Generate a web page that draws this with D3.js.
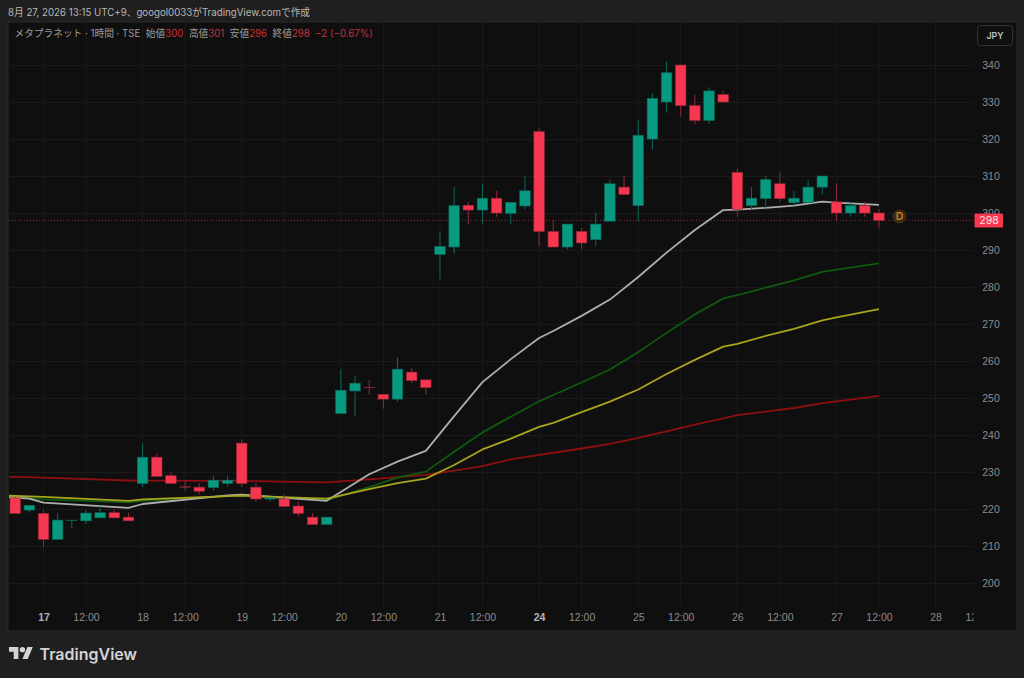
<!DOCTYPE html>
<html>
<head>
<meta charset="utf-8">
<script src="https://cdn.jsdelivr.net/npm/d3@7"></script>
<style>
  html, body { margin: 0; padding: 0; background: #1f1f1f; }
  svg { display: block; font-family: Inter, "Noto Sans CJK JP", sans-serif; }
  .axis path { display: none; }
  .axis line { stroke: #1a1a1a; }
  .axis text { fill: #8c8c8c; font-size: 10.5px; }
  .x-axis .major text { fill: #b4b4b4; font-weight: 700; }
</style>
</head>
<body>
<div id="chart"></div>
<script>
'use strict';
(function() {
  // Candles: first one sits two bars before the "17" tick
  var firstBar = -2;
  var opens = [223,219.7,218.8,211.8,216.9,216.8,217.6,219,217.8,226.9,234,229,226,225.9,225.8,226.9,237.8,225.9,222.7,222.7,220.8,217.8,215.8,245.8,251.9,252.9,251,249.7,257,254.9,288.8,290.8,302.1,300.8,304,299.9,301.9,322,295,290.8,295,292.8,297.8,307,302,320,330,340,329,325,332,311,302,303.9,307.9,302.8,302.8,307,303,300,302,300];
  var highs = [223.3,221,219.7,218.8,217,219.7,220.8,219.7,219,237.8,234.9,229.8,227.8,227,229,229,238.8,227,223,223.8,222,218.9,217.8,257.8,256,254.9,251,261,258,254.9,295,307.1,303,307.9,306,302.9,310,323,298,297,296,300.1,309,310,325.1,332.2,341,340,332,334,333,312,307,310,311,306,309,310,308,303,303,301];
  var lows = [219,219,209.8,211.8,214.8,216,217.6,217.6,216.8,226,228.8,226.9,224.8,224,224.9,226,226,222,222,220.7,218,215.8,215.8,245.8,245,251,247.1,249,254,251,282.1,289,297.1,297.1,299,297.1,301,291,290.8,290.2,290.2,291,297.8,305,297.9,317.1,327.1,326,324,324,330,299,301,301,303,302,302.8,305.1,298,299,299,296];
  var closes = [218.8,221,211.8,217,217,218.9,219,217.6,216.8,234,228.8,226.9,226,224.8,227.8,227.8,226.9,222.7,223,220.7,218.8,215.8,217.8,252.1,254,252.9,249.7,257.8,254.7,252.8,291,302,300.8,304,300,302.9,306,295,290.8,297,291.9,297,307.9,305,321,331,337.9,329,325,333,330,301,304,309,303.9,304,307,310,300,302,300,298];

  // Moving averages, read at these bar positions
  var lineBars = [-3,-1,0,6,7,13,14,20,23,25,27,29,31,33,35,36,38,40,42,44,46,48,49,51,53,55,56,59];
  var whiteLine = [223.25,222.8,221.7,220.3,221.35,223.7,223.9,222.2,229.4,232.8,235.7,245.1,254.3,260.5,266.2,268.1,272.2,276.6,282.7,289.3,295.4,300.8,300.9,301.4,302,303.1,302.8,302.2];
  var greenLine = [223.5,223.1,222.6,221.8,222.2,223.5,223.6,222.4,225.9,228.5,230.1,235.5,240.7,244.95,249.1,250.8,254.2,257.7,262.4,267.6,272.6,276.9,277.8,279.8,281.8,284.1,284.7,286.4];
  var yellowLine = [223.65,223.4,223.25,222.2,222.6,223.5,223.6,222.8,225.4,227,228.2,231.9,236.1,239,242.2,243.3,246.2,249,252.3,256.5,260.3,263.9,264.6,266.8,268.7,271,271.8,274];
  var redLine = [228.7,228.6,228.5,227.7,227.65,227.6,227.6,227.2,228,228.6,229.2,230.35,231.6,233.4,234.6,235.2,236.35,237.6,239.2,241,242.8,244.5,245.4,246.3,247.3,248.6,249.1,250.6];

  // Axis labels
  var priceTicks = [200,210,220,230,240,250,260,270,280,290,300,310,320,330,340];
  var timeTicks = [0,3,7,10,14,17,21,24,28,31,35,38,42,45,49,52,56,59,63,66];
  var timeLabels = ['17','12:00','18','12:00','19','12:00','20','12:00','21','12:00','24','12:00','25','12:00','26','12:00','27','12:00','28','12:00'];
  var majorLabels = ['17','24'];
  var lastPrice = 298;

  // Colors
  var UP = '#089981';
  var DOWN = '#f7374f';
  var UP_WICK = '#0b6a5c';
  var DOWN_WICK = '#93293a';
  var LINE_COLORS = ['#aeaeae', '#0e5a0e', '#a8a41c', '#8e0f12'];

  //Width and height
  var w = 1024;
  var h = 678;
  var panel = {left: 8, right: 1017, top: 22, bottom: 631};
  var plotRight = 973.5;
  var plotBottom = 607;
  var barWidth = 10.5;

  var xScale = d3.scaleLinear().domain([0, 63]).range([43.5, 935.6]);
  var yScale = d3.scaleLinear().domain([200, 340]).range([583, 65]);

  var svg = d3.select('#chart')
    .append('svg')
    .attr('width', w)
    .attr('height', h);

  svg.append('rect').attr('width', w).attr('height', h).attr('fill', '#1f1f1f');

  svg.append('text')
    .attr('x', 8).attr('y', 16)
    .attr('font-size', 9.7)
    .attr('fill', '#b8b8b8')
    .text('8月 27, 2026 13:15 UTC+9、googol0033がTradingView.comで作成');

  // Chart panel
  svg.append('rect')
    .attr('x', panel.left).attr('y', panel.top)
    .attr('width', panel.right - panel.left).attr('height', panel.bottom - panel.top)
    .attr('fill', '#0f0f0f')
    .attr('stroke', '#2b2b2b');

  var defs = svg.append('defs');
  defs.append('clipPath').attr('id', 'plot-clip')
    .append('rect')
    .attr('x', panel.left + 1).attr('y', panel.top + 1)
    .attr('width', plotRight - panel.left - 1).attr('height', plotBottom - panel.top - 1);
  defs.append('clipPath').attr('id', 'time-clip')
    .append('rect')
    .attr('x', panel.left).attr('y', plotBottom)
    .attr('width', plotRight - panel.left).attr('height', panel.bottom - plotBottom);

  // Y axis with grid
  var yAxis = d3.axisRight(yScale)
    .tickValues(priceTicks)
    .tickSize(0)
    .tickPadding(0);

  var yGroup = svg.append('g')
    .attr('class', 'axis y-axis')
    .attr('transform', 'translate(' + plotRight + ',0)')
    .call(yAxis);
  yGroup.selectAll('line')
    .attr('x1', panel.left + 1 - plotRight)
    .attr('x2', 0);
  yGroup.selectAll('text')
    .attr('x', 17.5)
    .attr('text-anchor', 'middle');

  // X axis with grid, clipped so the last label is cut off like the original
  var xAxis = d3.axisBottom(xScale)
    .tickValues(timeTicks)
    .tickSize(0)
    .tickFormat(function(d, i) { return timeLabels[i]; });

  var xGroup = svg.append('g')
    .attr('clip-path', 'url(#time-clip)')
    .append('g')
    .attr('class', 'axis x-axis')
    .attr('transform', 'translate(0,' + plotBottom + ')')
    .call(xAxis);
  xGroup.selectAll('.tick')
    .classed('major', function(d, i) { return majorLabels.indexOf(timeLabels[i]) >= 0; });
  xGroup.selectAll('text').attr('y', 7).attr('dy', '0.71em');

  svg.append('g')
    .attr('class', 'axis')
    .attr('clip-path', 'url(#plot-clip)')
    .selectAll('line')
    .data(timeTicks)
    .enter()
    .append('line')
    .attr('x1', function(d) { return xScale(d); })
    .attr('x2', function(d) { return xScale(d); })
    .attr('y1', panel.top + 1)
    .attr('y2', plotBottom);

  var plot = svg.append('g').attr('clip-path', 'url(#plot-clip)');

  // Last price line
  plot.append('line')
    .attr('x1', panel.left + 1).attr('x2', plotRight)
    .attr('y1', yScale(lastPrice)).attr('y2', yScale(lastPrice))
    .attr('stroke', '#8a2733')
    .attr('stroke-width', 1)
    .attr('stroke-dasharray', '1 2');

  // Moving averages go under the candles
  var lineGen = d3.line()
    .x(function(d, i) { return xScale(lineBars[i]); })
    .y(function(d) { return yScale(d); });

  plot.append('g')
    .selectAll('path')
    .data([redLine, greenLine, whiteLine, yellowLine])
    .enter()
    .append('path')
    .attr('d', lineGen)
    .attr('fill', 'none')
    .attr('stroke-width', 1.8)
    .attr('stroke-linejoin', 'round')
    .attr('stroke', function(d) {
      if (d === whiteLine) return LINE_COLORS[0];
      if (d === greenLine) return LINE_COLORS[1];
      if (d === yellowLine) return LINE_COLORS[2];
      return LINE_COLORS[3];
    });

  // Candles, an open equal to the close still gets a thin bar
  var isUp = function(i) { return closes[i] > opens[i]; };
  var candles = plot.append('g')
    .selectAll('g')
    .data(opens)
    .enter()
    .append('g');

  candles.append('line')
    .attr('x1', function(d, i) { return xScale(firstBar + i); })
    .attr('x2', function(d, i) { return xScale(firstBar + i); })
    .attr('y1', function(d, i) { return yScale(highs[i]); })
    .attr('y2', function(d, i) { return yScale(lows[i]); })
    .attr('stroke-width', 1)
    .attr('stroke', function(d, i) { return isUp(i) ? UP_WICK : DOWN_WICK; });

  candles.append('rect')
    .attr('x', function(d, i) { return xScale(firstBar + i) - barWidth / 2; })
    .attr('y', function(d, i) { return yScale(Math.max(opens[i], closes[i])); })
    .attr('width', barWidth)
    .attr('height', function(d, i) {
      return Math.max(0.4, Math.abs(yScale(opens[i]) - yScale(closes[i])));
    })
    .attr('fill', function(d, i) { return isUp(i) ? UP : DOWN; })
    .attr('stroke', function(d, i) { return isUp(i) ? UP_WICK : DOWN_WICK; })
    .attr('stroke-width', 0.6);

  // Dividend marker
  svg.append('circle')
    .attr('cx', 899.5).attr('cy', 216.5).attr('r', 7)
    .attr('fill', '#3a2a16');
  svg.append('text')
    .attr('x', 899.5).attr('y', 220.3)
    .attr('text-anchor', 'middle')
    .attr('font-size', 10.5)
    .attr('font-weight', 600)
    .attr('fill', '#d07c1c')
    .text('D');

  // Last price label
  svg.append('rect')
    .attr('x', 974.5).attr('y', yScale(lastPrice) - 7)
    .attr('width', 28.5).attr('height', 14)
    .attr('rx', 1)
    .attr('fill', DOWN);
  svg.append('text')
    .attr('x', 989).attr('y', yScale(lastPrice) + 4)
    .attr('text-anchor', 'middle')
    .attr('font-size', 10.5)
    .attr('fill', '#f4e4e6')
    .text(lastPrice);

  // JPY button
  svg.append('rect')
    .attr('x', 977.5).attr('y', 25.5)
    .attr('width', 35).attr('height', 20)
    .attr('rx', 3)
    .attr('fill', '#0f0f0f')
    .attr('stroke', '#333333');
  svg.append('text')
    .attr('x', 995).attr('y', 38.5)
    .attr('text-anchor', 'middle')
    .attr('font-size', 8.8)
    .attr('font-weight', 600)
    .attr('fill', '#c4c4c4')
    .text('JPY');

  // Legend
  var legendText = svg.append('text')
    .attr('x', 14.5).attr('y', 37)
    .attr('font-size', 9.7)
    .attr('xml:space', 'preserve');
  var legendParts = [
    ['メタプラネット · 1時間 · TSE  ', '#9a9a9a'],
    ['始値', '#9a9a9a'], ['300  ', '#c9303f'],
    ['高値', '#9a9a9a'], ['301  ', '#c9303f'],
    ['安値', '#9a9a9a'], ['296  ', '#c9303f'],
    ['終値', '#9a9a9a'], ['298  −2 (−0.67%)', '#c9303f']
  ];
  legendParts.forEach(function(part) {
    legendText.append('tspan').attr('fill', part[1]).text(part[0]);
  });

  // Footer logo
  svg.append('g')
    .attr('transform', 'translate(9,644.3) scale(0.67)')
    .attr('fill', '#d4d4d4')
    .call(function(g) {
      g.append('path').attr('d', 'M14 22H7V11H0V4h14v18zM28 22h-8l7.5-18h8L28 22z');
      g.append('circle').attr('cx', 20).attr('cy', 8).attr('r', 4);
    });
  svg.append('text')
    .attr('x', 39.5).attr('y', 660)
    .attr('font-size', 16)
    .attr('font-weight', 600)
    .attr('fill', '#d4d4d4')
    .text('TradingView');
})();
</script>
</body>
</html>
